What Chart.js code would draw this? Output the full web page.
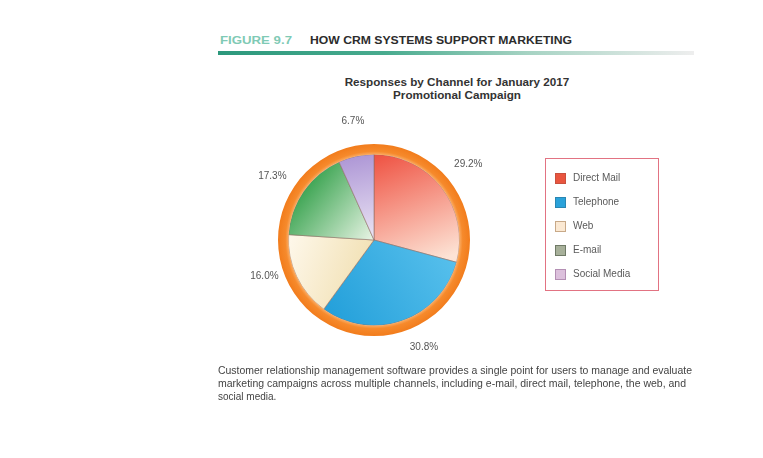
<!DOCTYPE html>
<html>
<head>
<meta charset="utf-8">
<script src="https://cdn.jsdelivr.net/npm/chart.js@4.4.0/dist/chart.umd.min.js"></script>
<style>
  html, body { margin: 0; padding: 0; background: #fff; }
  body { width: 763px; height: 458px; position: relative; overflow: hidden; font-family: "Liberation Sans", Arial, sans-serif; }
  #chart { position: absolute; left: 0; top: 0; }
  .fit { position: absolute; white-space: nowrap; transform-origin: left center; }
  .hdr { top: 34px; font-weight: bold; font-size: 11.5px; line-height: 13px; }
  .fig { left: 220px; color: #7fcab5; }
  .hdrtxt { left: 310px; color: #2c2c2c; }
  .rule { position: absolute; left: 218px; top: 51px; width: 476px; height: 4px;
          background: linear-gradient(to right, #2c987c 0%, #48ab8e 35%, #a6d3c3 65%, #eeeeee 100%); }
  .title { position: absolute; left: 300px; width: 314px; top: 76px; text-align: center;
           font-weight: bold; font-size: 11.7px; line-height: 12.5px; color: #333; }
  .legend { position: absolute; left: 545px; top: 158px; width: 114px; height: 133px;
            border: 1px solid #e27382; box-sizing: border-box; }
  .legend .item { position: absolute; left: 9px; height: 12px; font-size: 10px; line-height: 12px; color: #5a5a5a; white-space: nowrap; }
  .legend .sw { display: inline-block; width: 9px; height: 9px; border: 1px solid #999; vertical-align: top; margin: 1px 7px 0 0; }
  .cap { left: 218px; font-size: 10px; line-height: 13px; color: #444; }
</style>
</head>
<body>
<div class="fit hdr fig" data-w="72">FIGURE 9.7</div>
<div class="fit hdr hdrtxt" data-w="262">HOW CRM SYSTEMS SUPPORT MARKETING</div>
<div class="rule"></div>
<div class="title">Responses by Channel for January 2017<br>Promotional Campaign</div>
<canvas id="chart" width="763" height="458"></canvas>
<div class="legend" id="legend"></div>
<div class="fit cap" style="top:364px" data-w="474">Customer relationship management software provides a single point for users to manage and evaluate</div>
<div class="fit cap" style="top:377px" data-w="468">marketing campaigns across multiple channels, including e-mail, direct mail, telephone, the web, and</div>
<div class="fit cap" style="top:390px">social media.</div>
<script>
// data (share of responses, %)
const channels = ['Direct Mail', 'Telephone', 'Web', 'E-mail', 'Social Media'];
const responseShare = [29.2, 30.8, 16.0, 17.3, 6.7];
const shareLabels = ['29.2%', '30.8%', '16.0%', '17.3%', '6.7%'];
const ringValue = [100];

// colour pairs: strong end, pale end
const sliceStops = [
  ['#ee4a3a', '#fde3d5'],
  ['#219ed9', '#5cc3ee'],
  ['#fffaf0', '#f1dfb0'],
  ['#35a14c', '#eaf5e6'],
  ['#a68dd2', '#ece6f4']
];
const swatchColors = ['#e9553f', '#2aa2da', '#fbe9d3', '#a7b09a', '#dcc0dc'];
const swatchBorders = ['#c9503e', '#2a86b2', '#c8a988', '#6f7a66', '#b48fb4'];

// gradient direction per slice, in units of radius from the centre
const sliceVectors = [
  [0.1, -1.0, 0.6, 0.25],
  [-0.5, 0.9, 0.9, 0.0],
  [-1.0, 0.0, 0.0, 0.35],
  [-0.75, -0.6, 0.0, 0.0],
  [-0.2, -1.0, 0.0, 0.0]
];

// small pixel nudges so the labels sit where the figure has them
const labelNudge = [[-1, -3], [10, -6], [-1, -15], [-3, 5], [4, -1]];

function pieGeom(chart) {
  const a = chart.chartArea;
  const cx = (a.left + a.right) / 2;
  const cy = (a.top + a.bottom) / 2;
  const r = (Math.min(a.right - a.left, a.bottom - a.top) - 1) / 2;
  return { cx, cy, r };
}

function sliceFill(ctx) {
  const chart = ctx.chart;
  if (!chart.chartArea) return sliceStops[ctx.dataIndex][0];
  const { cx, cy, r } = pieGeom(chart);
  const v = sliceVectors[ctx.dataIndex];
  const g = chart.ctx.createLinearGradient(cx + v[0] * r, cy + v[1] * r, cx + v[2] * r, cy + v[3] * r);
  g.addColorStop(0, sliceStops[ctx.dataIndex][0]);
  g.addColorStop(1, sliceStops[ctx.dataIndex][1]);
  return g;
}

function ringFill(ctx) {
  const chart = ctx.chart;
  if (!chart.chartArea) return '#f58526';
  const { cx, cy, r } = pieGeom(chart);
  const g = chart.ctx.createRadialGradient(cx, cy, r * 0.89, cx, cy, r);
  g.addColorStop(0, '#fbb06a');
  g.addColorStop(0.35, '#f68a2c');
  g.addColorStop(1, '#f27d1d');
  return g;
}

// percentage labels outside the ring
const outsideLabels = {
  id: 'outsideLabels',
  afterDatasetsDraw(chart) {
    const ring = chart.getDatasetMeta(0).data[0];
    const meta = chart.getDatasetMeta(1);
    const c = chart.ctx;
    c.save();
    c.font = '10px "Liberation Sans", Arial, sans-serif';
    c.fillStyle = '#555';
    c.textAlign = 'center';
    c.textBaseline = 'middle';
    meta.data.forEach((arc, i) => {
      const mid = (arc.startAngle + arc.endAngle) / 2;
      const d = ring.outerRadius + 24;
      const n = labelNudge[i];
      c.fillText(shareLabels[i], arc.x + Math.cos(mid) * d + n[0], arc.y + Math.sin(mid) * d + n[1]);
    });
    c.restore();
  }
};

new Chart(document.getElementById('chart'), {
  type: 'pie',
  data: {
    labels: channels,
    datasets: [
      { data: ringValue, backgroundColor: ringFill, borderWidth: 0, weight: 1.1 },
      { data: responseShare, backgroundColor: sliceFill, borderColor: 'rgba(140,105,95,0.55)', borderWidth: 1, weight: 9 }
    ]
  },
  options: {
    responsive: false,
    animation: false,
    layout: { padding: { left: 278, right: 293, top: 144, bottom: 122 } },
    plugins: { legend: { display: false }, tooltip: { enabled: false } }
  },
  plugins: [outsideLabels]
});

// legend box
const legend = document.getElementById('legend');
channels.forEach((name, i) => {
  const item = document.createElement('div');
  item.className = 'item';
  item.style.top = (13 + i * 24) + 'px';
  const sw = document.createElement('span');
  sw.className = 'sw';
  sw.style.background = swatchColors[i];
  sw.style.borderColor = swatchBorders[i];
  item.appendChild(sw);
  item.appendChild(document.createTextNode(name));
  legend.appendChild(item);
});

// squeeze text lines to the widths measured on the figure
document.querySelectorAll('.fit[data-w]').forEach(el => {
  const w = el.getBoundingClientRect().width;
  const target = parseFloat(el.dataset.w);
  if (w > 0) el.style.transform = 'scaleX(' + (target / w) + ')';
});
</script>
</body>
</html>
